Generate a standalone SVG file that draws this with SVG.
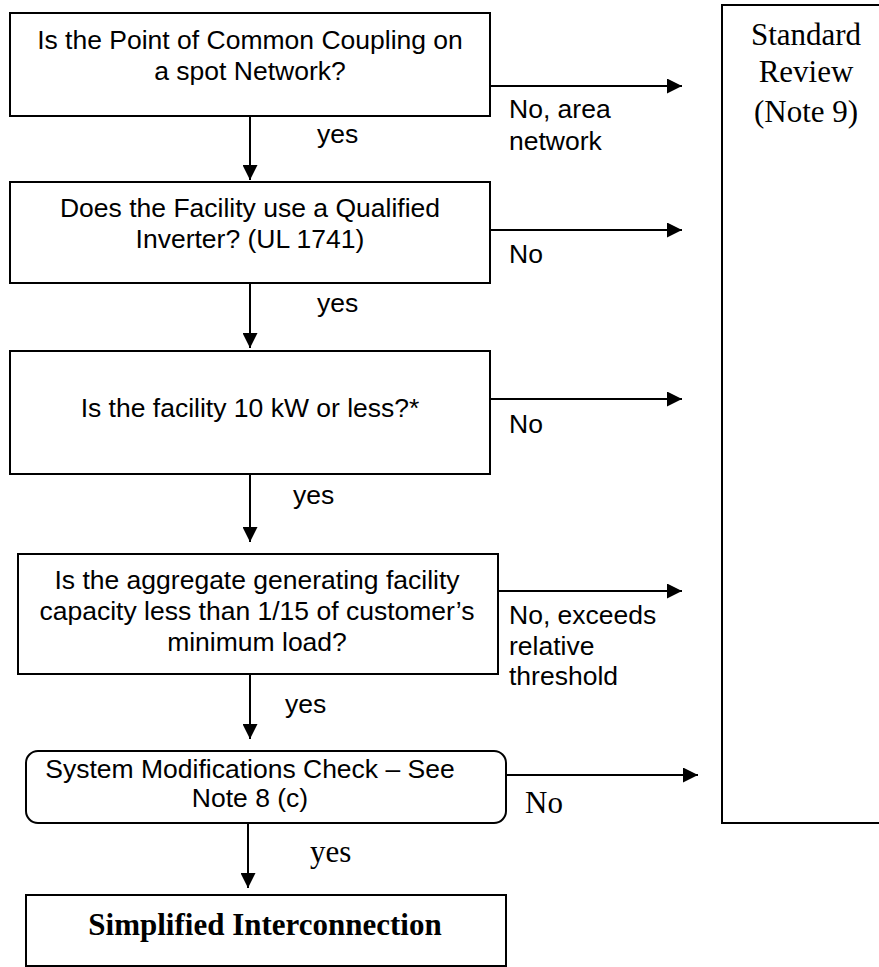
<svg xmlns="http://www.w3.org/2000/svg" width="879" height="967" viewBox="0 0 879 967">
<style>
.box{fill:#fff;stroke:#000;stroke-width:2}
.sans{font-family:"Liberation Sans",Arial,sans-serif;font-size:26.5px;fill:#000}
.serif{font-family:"Liberation Serif","Times New Roman",serif;font-size:31px;fill:#000}
.c{text-anchor:middle}
.conn{stroke:#000;stroke-width:2;fill:none;marker-end:url(#arr)}
</style>
<defs>
<marker id="arr" markerUnits="userSpaceOnUse" markerWidth="15" markerHeight="15" refX="15" refY="7.5" orient="auto">
<path d="M0,0 L15,7.5 L0,15 z" fill="#000"/>
</marker>
</defs>
<rect width="879" height="967" fill="#fff"/>
<g id="n1">
<rect class="box" x="10" y="13" width="480" height="103"/>
<text class="sans c" x="250" y="49">Is the Point of Common Coupling on</text>
<text class="sans c" x="250" y="80">a spot Network?</text>
</g>
<g id="n2">
<rect class="box" x="10" y="182" width="480" height="101"/>
<text class="sans c" x="250" y="217">Does the Facility use a Qualified</text>
<text class="sans c" x="250" y="248">Inverter? (UL 1741)</text>
</g>
<g id="n3">
<rect class="box" x="10" y="351" width="480" height="123"/>
<text class="sans c" x="250" y="417">Is the facility 10 kW or less?*</text>
</g>
<g id="n4">
<rect class="box" x="18" y="554" width="480" height="120"/>
<text class="sans c" x="257" y="589">Is the aggregate generating facility</text>
<text class="sans c" x="257" y="620">capacity less than 1/15 of customer’s</text>
<text class="sans c" x="257" y="651">minimum load?</text>
</g>
<g id="n5">
<rect class="box" x="26" y="751" width="480" height="72" rx="12" ry="12"/>
<text class="sans c" x="250" y="778">System Modifications Check – See</text>
<text class="sans c" x="250" y="807">Note 8 (c)</text>
</g>
<g id="n6">
<rect class="box" x="26" y="895" width="480" height="71"/>
<text class="serif c" x="265" y="935" font-weight="bold" font-size="31.5">Simplified Interconnection</text>
</g>
<g id="n7">
<rect class="box" x="722" y="5" width="170" height="818"/>
<text class="serif c" x="806" y="45">Standard</text>
<text class="serif c" x="806" y="82">Review</text>
<text class="serif c" x="806" y="122">(Note 9)</text>
</g>
<g id="connectors">
<line class="conn" x1="250" y1="116" x2="250" y2="180"/>
<line class="conn" x1="250" y1="283" x2="250" y2="348"/>
<line class="conn" x1="250" y1="474" x2="250" y2="542"/>
<line class="conn" x1="250" y1="674" x2="250" y2="739"/>
<line class="conn" x1="248" y1="823" x2="248" y2="888"/>
<line class="conn" x1="490" y1="86" x2="682" y2="86"/>
<line class="conn" x1="490" y1="230" x2="682" y2="230"/>
<line class="conn" x1="490" y1="399" x2="682" y2="399"/>
<line class="conn" x1="498" y1="591" x2="682" y2="591"/>
<line class="conn" x1="506" y1="775" x2="698" y2="775"/>
<text class="sans" x="317" y="143">yes</text>
<text class="sans" x="317" y="312">yes</text>
<text class="sans" x="293" y="504">yes</text>
<text class="sans" x="285" y="713">yes</text>
<text class="serif" x="310" y="862">yes</text>
<text class="sans" x="509" y="118">No, area</text>
<text class="sans" x="509" y="150">network</text>
<text class="sans" x="509" y="263">No</text>
<text class="sans" x="509" y="433">No</text>
<text class="sans" x="509" y="624">No, exceeds</text>
<text class="sans" x="509" y="655">relative</text>
<text class="sans" x="509" y="685">threshold</text>
<text class="serif" x="525" y="813">No</text>
</g>
</svg>
